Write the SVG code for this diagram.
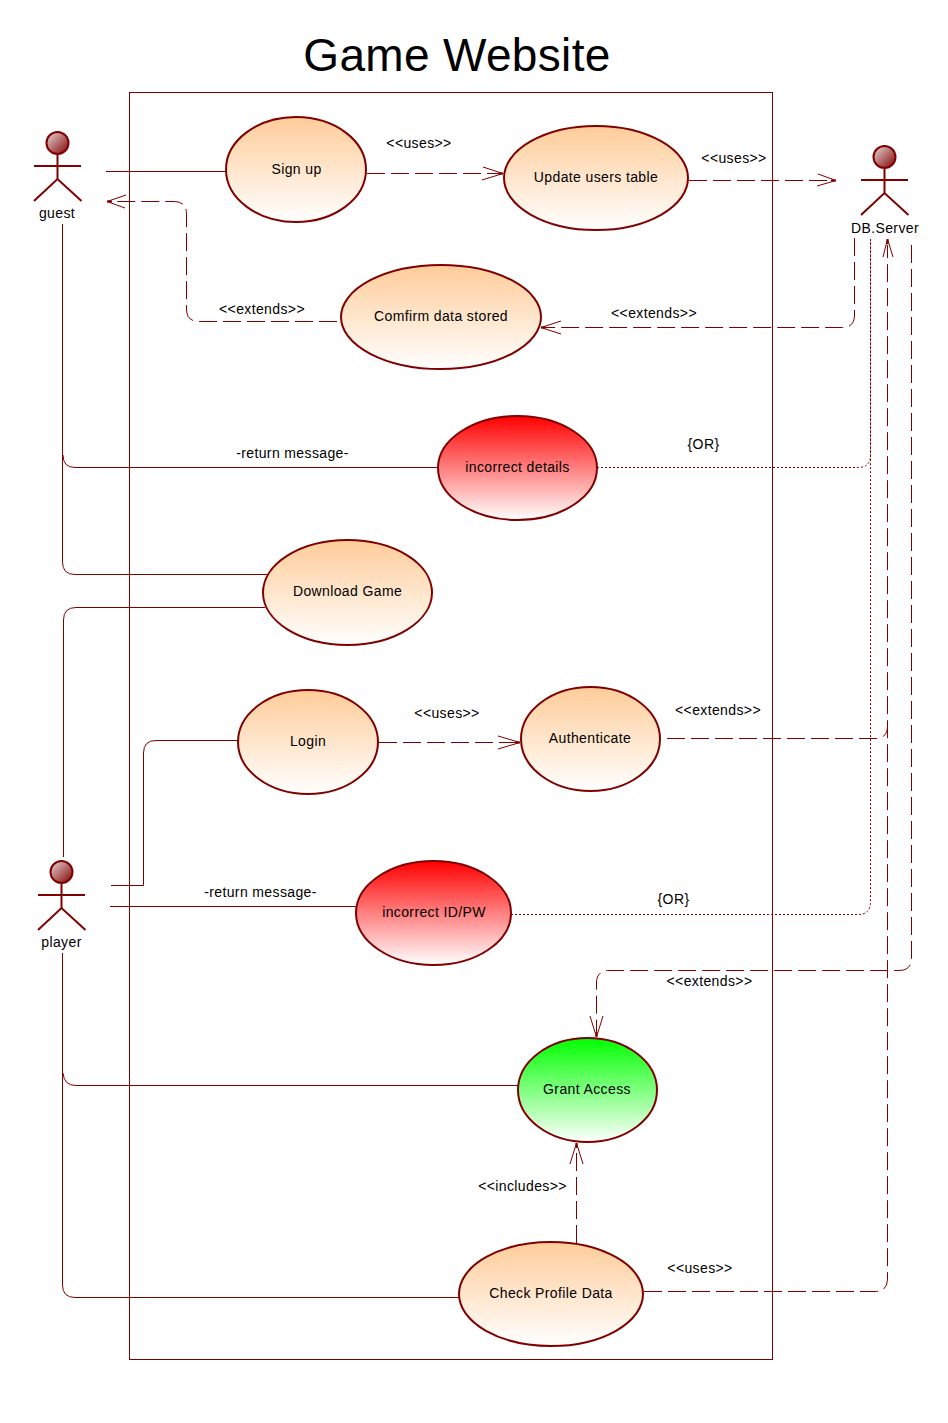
<svg xmlns="http://www.w3.org/2000/svg" width="948" height="1423" viewBox="0 0 948 1423">
<style>
text{font-family:"Liberation Sans",Arial,sans-serif;font-size:14px;letter-spacing:.38px;fill:#000;text-anchor:middle}
.title{font-size:46px;letter-spacing:.33px}
.n{stroke:#800000;stroke-width:2}
.line{fill:none;stroke:#800000;stroke-width:1}
.dash{stroke-dasharray:18 6}
.dot{stroke-dasharray:2 2}
.head{fill:none;stroke:#800000;stroke-width:1}
.tip{fill:none;stroke:#800000;stroke-width:2}
.act{fill:none;stroke:#800000;stroke-width:2}
</style>
<defs>
<linearGradient id="o" x1="0" y1="0" x2="0" y2="1"><stop offset="0" stop-color="#ffcc99"/><stop offset="1" stop-color="#fff"/></linearGradient>
<linearGradient id="r" x1="0" y1="0" x2="0" y2="1"><stop offset="0" stop-color="#ff0000"/><stop offset="1" stop-color="#fff"/></linearGradient>
<linearGradient id="g" x1="0" y1="0" x2="0" y2="1"><stop offset="0" stop-color="#00ff00"/><stop offset="1" stop-color="#fff"/></linearGradient>
<linearGradient id="h" x1="0" y1="0" x2="1" y2="1"><stop offset="0" stop-color="#eadcdc"/><stop offset="1" stop-color="#800000"/></linearGradient>
<g id="actor">
<circle cx="0" cy="0" r="11" fill="url(#h)" stroke="#800000" stroke-width="2"/>
<path class="act" d="M0 11V36M-23.500 23H23.500M-23.500 58L0 36L24 58"/>
</g>
</defs>
<rect width="948" height="1423" fill="#fff"/>
<text class="title" x="457" y="71">Game Website</text>
<rect id="boundary" x="129.500" y="92.500" width="643" height="1267" fill="none" stroke="#800000"/>
<g id="connectors">
<path class="line" d="M106 171.500H226"/>
<path class="line dash" d="M367 173.500H498"/>
<path class="head" d="M483 167L503 173.500L482 180"/><path class="tip" d="M498 173.500H503"/>
<path class="line dash" d="M689 180.500H832"/>
<path class="head" d="M818 174L836 180.500L817 186"/><path class="tip" d="M831 180.500H836"/>
<path class="line dash" d="M337 321.500H199Q186.500 321.500 186.500 309V214Q186.500 201.500 174 201.500H110"/>
<path class="head" d="M126 195L107 201.500L125 208"/><path class="tip" d="M107 201.500H112"/>
<path class="line dash" d="M854.500 238V315Q854.500 327.500 842 327.500H546"/>
<path class="head" d="M561 321L541 327.500L561 334"/><path class="tip" d="M541 327.500H546"/>
<path class="line" d="M63 455Q63 467.500 75 467.500H438"/>
<path class="line dot" d="M597 467.500H858Q870.500 467.500 870.500 455V239"/>
<path class="line" d="M62.500 224V562Q62.500 574.500 75 574.500H268"/>
<path class="line" d="M63.500 857V620Q63.500 607.500 76 607.500H265"/>
<path class="line" d="M111 885.500H143.500V753Q143.500 740.500 156 740.500H238"/>
<path class="line dash" d="M379 742.500H516"/>
<path class="head" d="M498 736L520 742.500L498 749"/><path class="tip" d="M515 742.500H520"/>
<path class="line dash" d="M667 738.500H875Q887.500 738.500 887.500 726"/>
<path class="head" d="M883 257L887.500 239L893 257"/><path class="tip" d="M887.500 239V244"/>
<path class="line" d="M110 906.500H356"/>
<path class="line dot" d="M511 914.500H858Q870.500 914.500 870.500 902V239"/>
<path class="line dash" d="M911.500 245V958Q911.500 970.500 899 970.500H609Q596.500 970.500 596.500 983V1032"/>
<path class="head" d="M590 1016L596.500 1037L603 1016"/><path class="tip" d="M596.500 1032V1037"/>
<path class="line" d="M62.500 953V1285Q62.500 1297.500 75 1297.500H459"/>
<path class="line" d="M63 1073Q64 1085.500 76 1085.500H518"/>
<path class="line dash" d="M576.500 1243V1148"/>
<path class="head" d="M570 1164L576.500 1143L583 1164"/><path class="tip" d="M576.500 1143V1148"/>
<path class="line dash" d="M644 1291.500H875Q887.500 1291.500 887.500 1279V245"/>
</g>
<g id="signup"><ellipse class="n" cx="296" cy="169.500" rx="70" ry="52.500" fill="url(#o)"/><text x="296.500" y="174">Sign up</text></g>
<g id="update"><ellipse class="n" cx="596" cy="178" rx="92" ry="52" fill="url(#o)"/><text x="596" y="182">Update users table</text></g>
<g id="confirm"><ellipse class="n" cx="441" cy="317" rx="100" ry="52" fill="url(#o)"/><text x="441" y="321">Comfirm data stored</text></g>
<g id="details"><ellipse class="n" cx="517.500" cy="468" rx="79.500" ry="52" fill="url(#r)"/><text x="517.500" y="472">incorrect details</text></g>
<g id="download"><ellipse class="n" cx="347.500" cy="592.500" rx="84.500" ry="52.500" fill="url(#o)"/><text x="347.500" y="596">Download Game</text></g>
<g id="login"><ellipse class="n" cx="308" cy="742" rx="70" ry="52" fill="url(#o)"/><text x="308" y="746">Login</text></g>
<g id="auth"><ellipse class="n" cx="590.500" cy="739" rx="69.500" ry="52" fill="url(#o)"/><text x="590" y="743">Authenticate</text></g>
<g id="idpw"><ellipse class="n" cx="433.500" cy="913" rx="77.500" ry="52" fill="url(#r)"/><text x="434" y="917">incorrect ID/PW</text></g>
<g id="grant"><ellipse class="n" cx="587.500" cy="1090" rx="69.500" ry="52" fill="url(#g)"/><text x="587" y="1094">Grant Access</text></g>
<g id="profile"><ellipse class="n" cx="551" cy="1294" rx="92" ry="52" fill="url(#o)"/><text x="551" y="1298">Check Profile Data</text></g>
<g id="guest"><use href="#actor" x="57.500" y="143"/><text x="57" y="218">guest</text></g>
<g id="dbserver"><use href="#actor" x="884.500" y="157"/><text x="885" y="233">DB.Server</text></g>
<g id="player"><use href="#actor" x="61.500" y="872"/><text x="61.500" y="947">player</text></g>
<g id="labels">
<text x="419" y="148">&lt;&lt;uses&gt;&gt;</text>
<text x="734" y="163">&lt;&lt;uses&gt;&gt;</text>
<text x="262" y="314">&lt;&lt;extends&gt;&gt;</text>
<text x="654" y="318">&lt;&lt;extends&gt;&gt;</text>
<text x="292.500" y="458">-return message-</text>
<text x="703.500" y="449">{OR}</text>
<text x="447" y="718">&lt;&lt;uses&gt;&gt;</text>
<text x="718" y="715">&lt;&lt;extends&gt;&gt;</text>
<text x="260.500" y="897">-return message-</text>
<text x="673.500" y="904">{OR}</text>
<text x="709.500" y="986">&lt;&lt;extends&gt;&gt;</text>
<text x="522.500" y="1191">&lt;&lt;includes&gt;&gt;</text>
<text x="700" y="1273">&lt;&lt;uses&gt;&gt;</text>
</g>
</svg>
